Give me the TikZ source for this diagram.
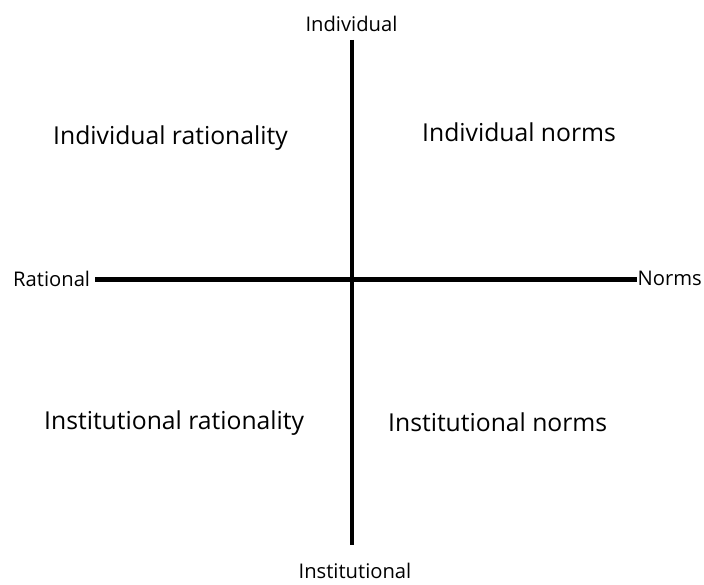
\documentclass[tikz,border=0pt]{standalone}
\usepackage{fontspec}
\setmainfont{Open Sans}
\begin{document}
\begin{tikzpicture}[x=1pt,y=1pt,
  axis/.style={line width=4.8pt},
  big/.style={font=\fontsize{24.7}{28}\selectfont, inner sep=0pt},
  small/.style={font=\fontsize{20.2}{24}\selectfont, inner sep=0pt}]
\useasboundingbox (0,0) rectangle (704,584);
\node[small, anchor=base] (ind) at (351.5,552) {Individual};
\node[small, anchor=base] (inst) at (355,6) {Institutional};
\node[small, anchor=base west] (rat) at (13,297) {Rational};
\node[small, anchor=base east] (norms) at (702,298) {Norms};
\coordinate (top) at (352,544);
\coordinate (bot) at (352,39);
\coordinate (left) at (95,304.7);
\coordinate (right) at (637,304.7);
\draw[axis] (top) -- (bot);
\draw[axis] (left) -- (right);
\node[big, anchor=base west] (q1) at (53,439) {Individual rationality};
\node[big, anchor=base west] (q2) at (422,442) {Individual norms};
\node[big, anchor=base west] (q3) at (44,154) {Institutional rationality};
\node[big, anchor=base west] (q4) at (388,153) {Institutional norms};
\end{tikzpicture}
\end{document}
